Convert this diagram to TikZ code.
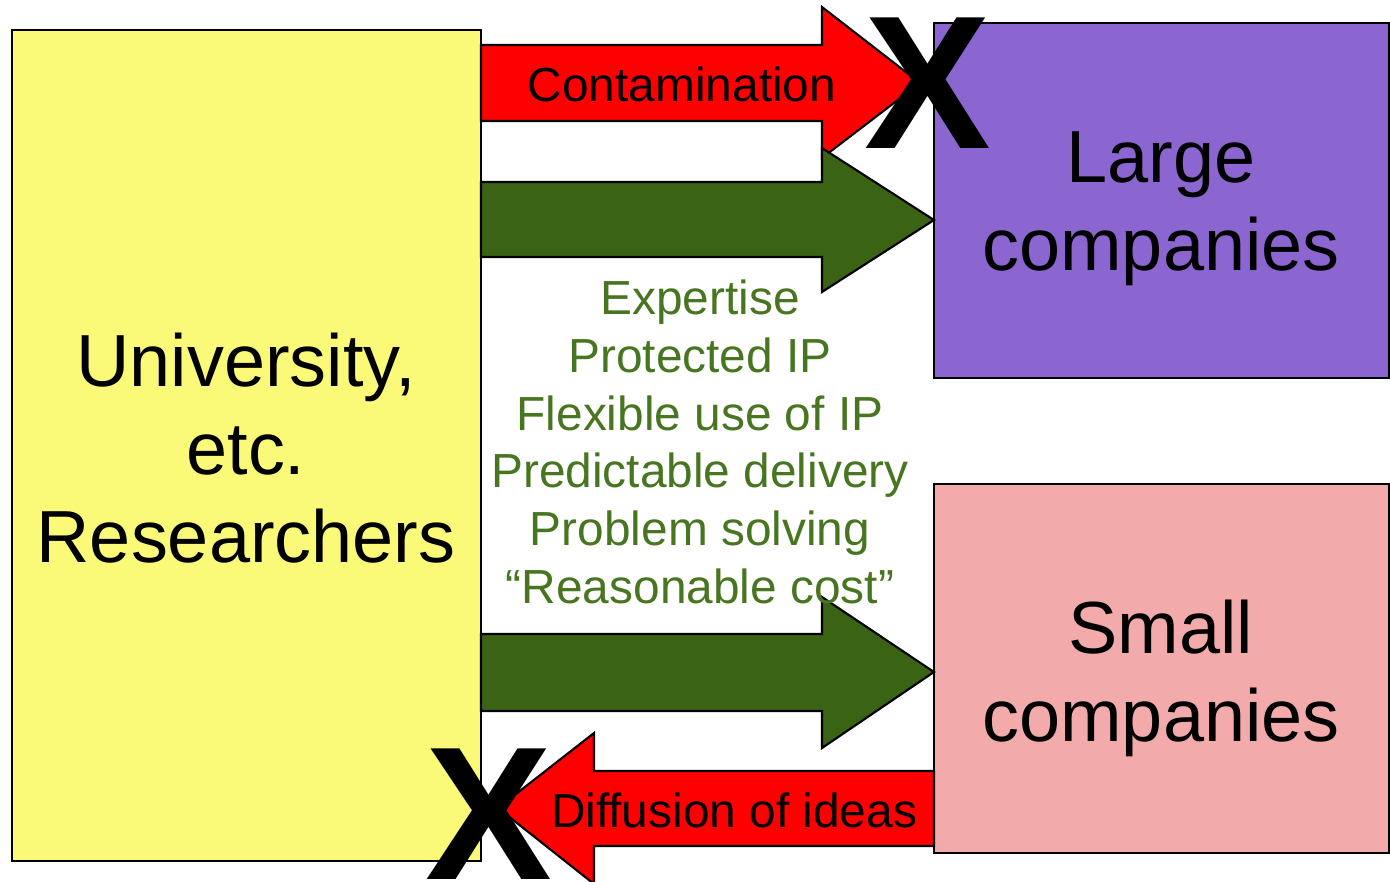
\documentclass[tikz,border=0pt]{standalone}
\usepackage{fontspec}
\setmainfont{Liberation Sans}

\definecolor{uniyellow}{HTML}{FAFA78}
\definecolor{largepurple}{HTML}{8B66D0}
\definecolor{smallpink}{HTML}{F2AAAA}
\definecolor{arrowgreen}{HTML}{3B6314}
\definecolor{listgreen}{HTML}{477520}

\begin{document}
\begin{tikzpicture}[x=0.01cm, y=-0.01cm, line width=0.6pt,
    box/.style={draw=black, inner sep=0pt},
    bigtext/.style={align=center, inner sep=0pt, font=\fontsize{21}{25}\selectfont},
    midtext/.style={align=center, inner sep=0pt, font=\fontsize{13.6}{16.4}\selectfont},
    cross/.style={inner sep=0pt, font=\fontsize{54}{54}\selectfont\bfseries}]
        \useasboundingbox (0,0) rectangle (1390,881);

        % the three boxes
        \node[box, fill=uniyellow, minimum width=4.69cm, minimum height=8.31cm] (uni) at (246.5,445.5) {};
        \node[box, fill=largepurple, minimum width=4.55cm, minimum height=3.55cm] (large) at (1161.5,200.5) {};
        \node[box, fill=smallpink, minimum width=4.55cm, minimum height=3.69cm] (small) at (1161.5,668.5) {};

        % block arrows
        \draw[fill=red] (481,45) -- (822,45) -- (822,7) -- (920,83) -- (822,158) -- (822,121) -- (481,121) -- cycle;
        \draw[fill=arrowgreen] (481,182) -- (822,182) -- (822,148) -- (934,220) -- (822,292) -- (822,257) -- (481,257) -- cycle;
        \draw[fill=arrowgreen] (481,634) -- (822,634) -- (822,597) -- (934,672) -- (822,748) -- (822,711) -- (481,711) -- cycle;
        \draw[fill=red] (934,771) -- (594,771) -- (594,733) -- (498,808) -- (594,884) -- (594,846) -- (934,846) -- cycle;

        % labels
        \node[bigtext] (unitext) at (246,448) {University,\\etc.\\Researchers};
        \node[bigtext] (largetext) at (1161,209) {Large\\companies};
        \node[bigtext] (smalltext) at (1161,678) {Small\\companies};
        \node[midtext] (contam) at (682,84) {Contamination};
        \node[midtext] (diffuse) at (734,810) {Diffusion of ideas};
        \node[midtext, text=listgreen] (offer) at (700,442) {Expertise\\Protected IP\\Flexible use of IP\\Predictable delivery\\Problem solving\\“Reasonable cost”};

        % blocked flows
        \node[cross] (xtop) at (928,83) {X};
        \node[cross] (xbottom) at (489,814) {X};
    \end{tikzpicture}
\end{document}
